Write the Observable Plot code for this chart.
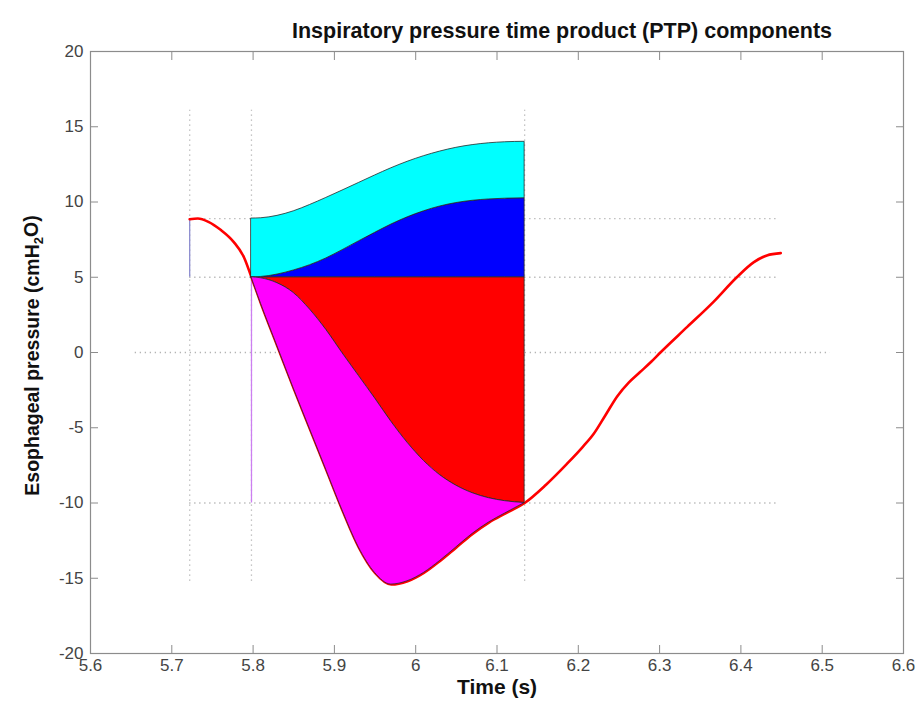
<!DOCTYPE html>
<html><head><meta charset="utf-8">
<script src="https://cdn.jsdelivr.net/npm/d3@7"></script>
<script src="https://cdn.jsdelivr.net/npm/@observablehq/plot@0.6"></script>
<style>
body{margin:0;background:#fff;}
</style></head><body><div id="chart"></div>
<script>
// ---- tick labels ----
const xTicks = [5.6, 5.7, 5.8, 5.9, 6.0, 6.1, 6.2, 6.3, 6.4, 6.5, 6.6];
const yTicks = [-20, -15, -10, -5, 0, 5, 10, 15, 20];

// ---- text ----
const titleText = "Inspiratory pressure time product (PTP) components";
const xLabel = "Time (s)";
const yLabel = "Esophageal pressure (cmH2O)";

// ---- esophageal pressure trace: before inspiration ----
const preTime  = [5.722, 5.732, 5.745, 5.760, 5.776, 5.789];
const preValue = [8.85, 8.9, 8.68, 8.15, 7.35, 6.3];

// ---- inspiratory segment (common time base) ----
const inspTime  = [5.798, 5.81, 5.83, 5.85, 5.87, 5.89, 5.91, 5.93, 5.95, 5.97, 5.99, 6.01, 6.03, 6.05, 6.07, 6.09, 6.11, 6.134];
const pesInsp   = [5.0, 3.2, 0.4, -2.4, -5.1, -7.8, -10.5, -12.95, -14.65, -15.42, -15.2, -14.65, -13.85, -12.95, -12.05, -11.3, -10.7, -10.0];
const lowerEdge = [5.0, 4.93, 4.6, 3.95, 2.85, 1.5, -0.05, -1.55, -3.05, -4.6, -6.0, -7.2, -8.15, -8.85, -9.35, -9.68, -9.88, -10.0];
const blueTop   = [5.0, 5.02, 5.18, 5.45, 5.8, 6.25, 6.8, 7.38, 7.95, 8.5, 8.98, 9.38, 9.7, 9.93, 10.08, 10.17, 10.22, 10.25];
const cyanTop   = [8.9, 8.92, 9.08, 9.38, 9.8, 10.27, 10.76, 11.26, 11.76, 12.24, 12.67, 13.04, 13.35, 13.6, 13.78, 13.9, 13.97, 14.0];
const baseLevel = 5.0;

// ---- trace after inspiration ----
const postTime  = [6.160, 6.186, 6.205, 6.219, 6.233, 6.248, 6.262, 6.276, 6.290, 6.301, 6.334, 6.366, 6.395, 6.416, 6.432, 6.449];
const postValue = [-8.8, -7.4, -6.3, -5.4, -4.2, -2.9, -2.0, -1.3, -0.6, 0.0, 1.7, 3.35, 5.0, 6.0, 6.45, 6.6];

// ---- reference (dotted) lines ----
const markerTimes  = [5.722, 5.798, 6.134];
const markerSpanY  = [-15.2, 16.1];
const markerLevels = [8.9, 5.0, -10.0];
const levelSpanX   = [5.722, 6.445];
const zeroLevel    = [0];
const zeroSpanX    = [5.655, 6.51];

// ---- coloured vertical segments ----
const segTime  = [5.722, 5.798];
const segFrom  = [5.0, -10.0];
const segTo    = [8.9, 5.0];
const segColor = ["#8c8cd0", "#cc7ff0"];

// build tables
const fullTrace = [
  ...preTime.map((t, i) => ({t, p: preValue[i]})),
  ...inspTime.map((t, i) => ({t, p: pesInsp[i]})),
  ...postTime.map((t, i) => ({t, p: postValue[i]}))
];
const insp = inspTime.map((t, i) => ({t, pes: pesInsp[i], lower: lowerEdge[i], blue: blueTop[i], cyan: cyanTop[i], base: baseLevel}));
const segs = segTime.map((t, i) => ({t, y1: segFrom[i], y2: segTo[i], c: segColor[i]}));

const FONT = "'Liberation Sans Narrow', 'Arial Narrow', 'Liberation Sans', Arial, sans-serif";
const dotted = {stroke: "#b4b4b4", strokeWidth: 1.3, strokeDasharray: "1.3,3.7"};
const edge = {stroke: "#2a2a2a", strokeWidth: 0.8, curve: "monotone-x"};

const plot = Plot.plot({
  width: 924,
  height: 711,
  marginLeft: 90,
  marginRight: 21,
  marginTop: 51,
  marginBottom: 58,
  style: {fontFamily: FONT, fontSize: "17px", color: "#444", background: "#fff", overflow: "visible"},
  x: {domain: [5.6, 6.6]},
  y: {domain: [-20, 20]},
  marks: [
    // dotted reference lines
    Plot.ruleX(markerTimes, {x: d => d, y1: markerSpanY[0], y2: markerSpanY[1], ...dotted}),
    Plot.ruleY(markerLevels, {y: d => d, x1: levelSpanX[0], x2: levelSpanX[1], ...dotted}),
    Plot.ruleY(zeroLevel, {y: d => d, x1: zeroSpanX[0], x2: zeroSpanX[1], ...dotted}),
    // coloured vertical segments
    Plot.ruleX(segs, {x: "t", y1: "y1", y2: "y2", stroke: "c", strokeWidth: 1.3}),
    // pressure trace
    Plot.line(fullTrace, {x: "t", y: "p", stroke: "#f00", strokeWidth: 2.6, curve: "monotone-x"}),
    // PTP components
    Plot.areaY(insp, {x: "t", y1: "lower", y2: "base", fill: "#ff0000", ...edge}),
    Plot.areaY(insp, {x: "t", y1: "base", y2: "blue", fill: "#0000ff", ...edge}),
    Plot.areaY(insp, {x: "t", y1: "blue", y2: "cyan", fill: "#00ffff", ...edge}),
    Plot.areaY(insp, {x: "t", y1: "pes", y2: "lower", fill: "#ff00ff", ...edge}),
    // frame and axes (MATLAB style inward ticks)
    Plot.frame({stroke: "#8c8c8c", strokeWidth: 1.2}),
    Plot.axisX(xTicks, {anchor: "bottom", tickSize: -8, tickPadding: 13, stroke: "#8c8c8c", fill: "#444", tickFormat: d3.format("~g"), label: null}),
    Plot.axisX(xTicks, {anchor: "top", tickSize: -8, stroke: "#8c8c8c", fill: "none", label: null}),
    Plot.axisY(yTicks, {anchor: "left", tickSize: -8, tickPadding: 15, stroke: "#8c8c8c", fill: "#444", tickFormat: d => String(d), label: null}),
    Plot.axisY(yTicks, {anchor: "right", tickSize: -8, stroke: "#8c8c8c", fill: "none", label: null}),
    // texts
    Plot.text([titleText], {text: d => d, frameAnchor: "top", dx: 65, dy: -29, fontSize: 21.5, fontWeight: "bold", fill: "#111"}),
    Plot.text([xLabel], {text: d => d, frameAnchor: "bottom", dx: 0, dy: 40, fontSize: 21, fontWeight: "bold", fill: "#111"}),
    Plot.text([yLabel], {text: d => d, frameAnchor: "left", textAnchor: "middle", dx: -58, dy: 3, rotate: -90, fontSize: 19.5, fontWeight: "bold", fill: "#111"})
  ]
});

// subscript "2" in cmH2O
d3.select(plot).selectAll("text").each(function() {
  if (this.textContent === yLabel) {
    const el = d3.select(this);
    el.text(null);
    el.append("tspan").text("Esophageal pressure (cmH");
    el.append("tspan").attr("dy", "0.35em").attr("font-size", "13").text("2");
    el.append("tspan").attr("dy", "-0.25em").text("O)");
  }
});

document.getElementById("chart").append(plot);
</script>
</body></html>
